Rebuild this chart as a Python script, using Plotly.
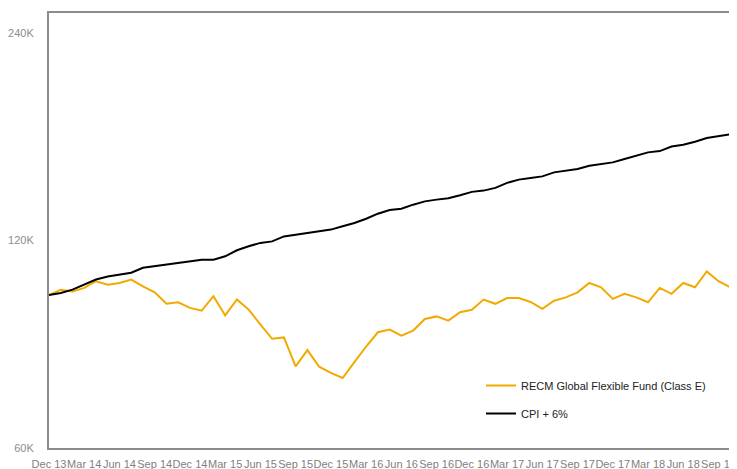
import plotly.graph_objects as go

months = ["Dec", "Jan", "Feb", "Mar", "Apr", "May", "Jun", "Jul", "Aug", "Sep", "Oct", "Nov"]
start_year = 13
n_points = 60
dates = []
for i in range(n_points):
    m = i % 12
    y = start_year + (i + 11) // 12
    dates.append(f"{months[m]} {y}")

fund = [100.0, 101.8, 101.2, 102.4, 104.7, 103.5, 104.1, 105.3, 102.9, 100.9,
        97.1, 97.6, 95.8, 94.9, 99.6, 93.4, 98.5, 95.2, 90.6, 86.4,
        86.8, 78.8, 83.2, 78.7, 77.1, 75.8, 79.9, 84.2, 88.3, 89.1,
        87.3, 88.8, 92.3, 93.1, 91.8, 94.4, 95.2, 98.5, 97.1, 99.0,
        99.0, 97.7, 95.5, 98.1, 99.2, 100.9, 104.1, 102.6, 98.7, 100.4,
        99.2, 97.6, 102.4, 100.4, 104.1, 102.6, 108.2, 104.7, 102.6, 95.6]

cpi = [100.0, 100.7, 101.8, 103.5, 105.3, 106.4, 107.0, 107.7, 109.5, 110.1,
       110.7, 111.3, 111.9, 112.5, 112.5, 113.8, 116.1, 117.7, 119.0, 119.6,
       121.6, 122.3, 123.0, 123.7, 124.4, 125.8, 127.2, 129.0, 131.2, 132.8,
       133.4, 135.2, 136.7, 137.5, 138.1, 139.5, 141.1, 141.7, 143.0, 145.4,
       147.0, 147.8, 148.6, 150.6, 151.5, 152.3, 154.0, 154.7, 155.7, 157.5,
       159.2, 161.0, 161.7, 164.2, 165.2, 166.8, 168.9, 169.8, 171.0, 173.3]

fund_vals = [v * 1000 for v in fund]
cpi_vals = [v * 1000 for v in cpi]

x_idx = list(range(n_points))
tick_idx = [i for i in x_idx if i % 3 == 0]
tick_text = [dates[i] for i in tick_idx]

y_ticks = [60000, 120000, 240000]
y_ticktext = ["60K", "120K", "240K"]

fig = go.Figure()
fig.add_trace(go.Scatter(x=x_idx, y=fund_vals, mode="lines",
                         name="RECM Global Flexible Fund (Class E)",
                         line=dict(color="#F2AA00", width=2),
                         legendgroup="a"))
fig.add_trace(go.Scatter(x=x_idx, y=cpi_vals, mode="lines",
                         name="CPI + 6%",
                         line=dict(color="#000000", width=2),
                         legendgroup="b"))

fig.update_layout(
    width=737, height=469,
    margin=dict(l=41, r=3, t=5, b=29, autoexpand=False),
    paper_bgcolor="white", plot_bgcolor="white",
    font=dict(family="Liberation Sans, Arial, sans-serif", size=11, color="#8c8c8c"),
    showlegend=True,
    legend=dict(x=0.6234, y=0.177, xanchor="left", yanchor="top",
                bgcolor="rgba(0,0,0,0)", tracegroupgap=9,
                font=dict(family="Liberation Sans, Arial, sans-serif",
                          size=11, color="#222222")),
    xaxis=dict(range=[0, 59], tickmode="array", tickvals=tick_idx, ticktext=tick_text,
               tickangle=0, showgrid=False, zeroline=False, automargin=False,
               showline=True, linecolor="#8c8c8c", linewidth=2, mirror=True,
               ticks="outside", ticklen=5, tickcolor="rgba(0,0,0,0)",
               tickfont=dict(size=11, color="#808080")),
    yaxis=dict(type="log", range=[4.77815, 5.4089], tickmode="array", automargin=False,
               tickvals=y_ticks, ticktext=y_ticktext, showgrid=False, zeroline=False,
               showline=True, linecolor="#8c8c8c", linewidth=2,
               ticks="outside", ticklen=11, tickcolor="rgba(0,0,0,0)",
               tickfont=dict(size=11, color="#8c8c8c")),
)

fig.write_html("out.html")
